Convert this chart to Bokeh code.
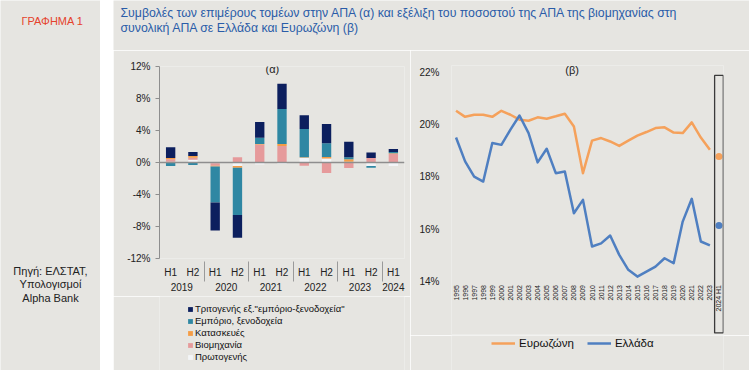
import math
import numpy as np
from bokeh.plotting import figure
from bokeh.core.properties import value
from bokeh.models import (FactorRange, Range1d, FixedTicker, PrintfTickFormatter,
                          Legend, LegendItem, Label, BoxAnnotation, Span, Spacer)
from bokeh.layouts import row, column
from bokeh.embed import file_html
from bokeh.resources import INLINE

BG = "#e6e5e1"
FONT = "Liberation Sans"

# ---------------- data (a): contributions to GVA growth (pp) ----------------
years_a = ["2019", "2019", "2020", "2020", "2021", "2021", "2022", "2022", "2023", "2023", "2024"]
halves = ["H1", "H2", "H1", "H2", "H1", "H2", "H1", "H2", "H1", "H2", "H1"]
primary = [0.10, 0.35, -0.10, -0.45, -0.25, -0.20, 0.60, 0.50, 0.10, -0.45, -0.45]
industry = [0.30, 0.25, -0.30, 0.65, 2.25, 2.05, -0.40, -1.30, -0.70, 0.55, 1.10]
construction = [0.15, 0.20, -0.10, -0.20, 0.05, 0.25, 0.05, 0.20, 0.30, 0.00, 0.05]
trade = [-0.45, -0.30, -4.50, -5.90, 0.80, 4.40, 3.55, 1.70, 0.25, -0.20, 0.15]
services = [1.35, 0.50, -3.50, -2.85, 1.95, 3.15, 1.70, 2.40, 1.95, 0.70, 0.40]
y_ticks_a = [-12, -8, -4, 0, 4, 8, 12]

# ---------------- data (b): industry share of total GVA (%) ----------------
years_b = ["1995", "1996", "1997", "1998", "1999", "2000", "2001", "2002", "2003", "2004",
           "2005", "2006", "2007", "2008", "2009", "2010", "2011", "2012", "2013", "2014",
           "2015", "2016", "2017", "2018", "2019", "2020", "2021", "2022", "2023", "2024 H1"]
eurozone = [20.52, 20.29, 20.37, 20.37, 20.29, 20.52, 20.37, 20.18, 20.14, 20.27,
            20.22, 20.31, 20.41, 19.92, 18.14, 19.38, 19.48, 19.35, 19.18, 19.38,
            19.57, 19.71, 19.86, 19.89, 19.69, 19.67, 20.08, 19.50, 19.03]
greece = [19.50, 18.59, 18.01, 17.82, 19.29, 19.22, 19.80, 20.34, 19.67, 18.55,
          19.07, 18.14, 18.20, 16.61, 17.12, 15.34, 15.46, 15.76, 15.02, 14.45,
          14.19, 14.38, 14.57, 14.89, 14.70, 16.29, 17.16, 15.53, 15.38]
eurozone_last = [18.78]
greece_last = [16.14]
y_ticks_b = [14, 16, 18, 20, 22]

# ---------------- styling ----------------
series = [
    ("Πρωτογενής", primary, "#f3f5f8"),
    ("Βιομηχανία", industry, "#e69a9b"),
    ("Κατασκευές", construction, "#f59c45"),
    ("Εμπόριο, ξενοδοχεία", trade, "#2f87a3"),
    ('Τριτογενής εξ."εμπόριο-ξενοδοχεία"', services, "#0c1f5e"),
]
EZ_COLOR = "#f5a15b"
GR_COLOR = "#4f7fc1"
TXT = "#222222"


def style_fig(p):
    p.background_fill_color = BG
    p.border_fill_color = BG
    p.outline_line_color = None
    p.xgrid.visible = False
    p.ygrid.visible = False


def blank_fig(w, h):
    f = figure(width=w, height=h, x_range=Range1d(0, w), y_range=Range1d(h, 0),
               toolbar_location=None, output_backend="svg", min_border=0)
    style_fig(f)
    f.axis.visible = False
    return f


# ---------------- left side panel ----------------
side = blank_fig(100, 370)
side.add_layout(Label(x=52, y=20, text="ΓΡΑΦΗΜΑ 1", text_font=FONT, text_font_size="11px",
                      text_color="#e5432c", text_align="center", text_baseline="middle"))
for i, t in enumerate(["Πηγή: ΕΛΣΤΑΤ,", "Υπολογισμοί", "Alpha Bank"]):
    side.add_layout(Label(x=50, y=270 + 13.5 * i, text=t, text_font=FONT, text_font_size="11px",
                          text_color=TXT, text_align="center", text_baseline="middle"))

# ---------------- title ----------------
tfig = blank_fig(636, 50)
title_lines = ["Συμβολές των επιμέρους τομέων στην ΑΠΑ (α) και εξέλιξη του ποσοστού της ΑΠΑ της βιομηχανίας στη",
               "συνολική ΑΠΑ σε Ελλάδα και Ευρωζώνη  (β)"]
for i, t in enumerate(title_lines):
    tfig.add_layout(Label(x=7, y=12 + 15 * i, text=t, text_font=FONT, text_font_size="12.3px",
                          text_color="#2a5ca8", text_align="left", text_baseline="middle"))

# ---------------- chart (a) ----------------
factors = list(zip(years_a, halves))
pa = figure(width=297, height=246,
            x_range=FactorRange(*factors, factor_padding=0, group_padding=0, range_padding=0),
            y_range=Range1d(-12, 12), toolbar_location=None, output_backend="svg",
            min_border_left=46, min_border_right=6, min_border_top=16, min_border_bottom=38)
style_fig(pa)

n = len(factors)
pos = np.zeros(n)
neg = np.zeros(n)
for name, vals, color in series:
    v = np.array(vals, dtype=float)
    bottom = np.where(v >= 0, pos, neg)
    top = bottom + v
    pos = np.where(v >= 0, top, pos)
    neg = np.where(v < 0, top, neg)
    pa.vbar(x=factors, bottom=bottom, top=top, width=0.42, fill_color=color, line_color=None)

pa.add_layout(Span(location=0, dimension="width", line_color="#8e8e8e", line_width=1.5))

pa.yaxis.ticker = FixedTicker(ticks=y_ticks_a)
pa.yaxis.formatter = PrintfTickFormatter(format="%d%%")
pa.yaxis.axis_line_color = "#8e8e8e"
pa.yaxis.major_tick_line_color = "#8e8e8e"
pa.yaxis.major_tick_out = 4
pa.yaxis.major_tick_in = 0
pa.yaxis.minor_tick_line_color = None
pa.yaxis.major_label_text_font = FONT
pa.yaxis.major_label_text_font_size = "10px"
pa.yaxis.major_label_text_color = TXT

pa.xaxis.axis_line_color = None
pa.xaxis.major_tick_line_color = None
pa.xaxis.major_label_text_font = FONT
pa.xaxis.major_label_text_font_size = "10px"
pa.xaxis.major_label_text_color = TXT
pa.xaxis.group_text_font = FONT
pa.xaxis.group_text_font_size = "10px"
pa.xaxis.group_text_color = TXT
pa.xaxis.group_text_font_style = "normal"
pa.xaxis.major_label_standoff = 2
pa.xaxis.separator_line_color = "#9a9a9a"
pa.xaxis.separator_line_width = 1

pa.add_layout(Label(x=5.07, y=11.75, text="(α)", text_font=FONT, text_font_size="11px",
                    text_color=TXT, text_align="center", text_baseline="middle"))

# legend for (a) in its own strip
la = figure(width=297, height=74, x_range=Range1d(0, 1), y_range=Range1d(0, 1),
            toolbar_location=None, output_backend="svg", min_border=0)
style_fig(la)
la.axis.visible = False
items_a = []
for name, _, color in reversed(series):
    r = la.vbar(x=[-5], bottom=[-6], top=[-5], width=0.1, fill_color=color, line_color=None)
    items_a.append(LegendItem(label=name, renderers=[r]))
legend_a = Legend(items=items_a, location=(28, 8), orientation="vertical",
                  background_fill_alpha=0, border_line_color=None,
                  label_text_font=FONT, label_text_font_size="9.5px", label_text_color="#111111",
                  glyph_width=6, glyph_height=6, label_height=11, label_standoff=2,
                  spacing=1, padding=0, margin=0)
la.add_layout(legend_a)

# ---------------- chart (b) ----------------
pb = figure(width=339, height=285,
            x_range=FactorRange(*years_b, factor_padding=0, range_padding=0),
            y_range=Range1d(11.98, 22.25), toolbar_location=None, output_backend="svg",
            min_border_left=41, min_border_right=26, min_border_top=15, min_border_bottom=1)
style_fig(pb)

hist = years_b[:len(eurozone)]
last = years_b[len(eurozone):]
r_ez = pb.line(x=hist, y=eurozone, line_color=EZ_COLOR, line_width=2.5, line_join="round")
r_gr = pb.line(x=hist, y=greece, line_color=GR_COLOR, line_width=2.5, line_join="round")
pb.scatter(x=last, y=eurozone_last, size=7, fill_color=EZ_COLOR, line_color=None)
pb.scatter(x=last, y=greece_last, size=7, fill_color=GR_COLOR, line_color=None)

idx_last = years_b.index(last[0])
pb.add_layout(BoxAnnotation(left=idx_last + 0.02, right=idx_last + 0.98, top=21.87, bottom=12.04,
                            fill_color=None, fill_alpha=0, line_color="#3a3a3a",
                            line_alpha=1, line_width=1.3))

# category labels just under the 14% level, rotated like the axis labels
pb.text(x=years_b, y=[13.87] * len(years_b), text=years_b, angle=math.pi / 2,
        text_align="right", text_baseline="middle", text_font_size="7px",
        text_color=TXT, text_font=value(FONT))

pb.yaxis.ticker = FixedTicker(ticks=y_ticks_b)
pb.yaxis.formatter = PrintfTickFormatter(format="%d%%")
pb.yaxis.axis_line_color = None
pb.yaxis.major_tick_line_color = None
pb.yaxis.minor_tick_line_color = None
pb.yaxis.major_label_text_font = FONT
pb.yaxis.major_label_text_font_size = "10px"
pb.yaxis.major_label_text_color = TXT
pb.yaxis.major_label_standoff = 6
pb.xaxis.visible = False

pb.add_layout(Label(x=13.3, y=22.08, text="(β)", text_font=FONT, text_font_size="11px",
                    text_color=TXT, text_align="center", text_baseline="middle"))

lb = figure(width=339, height=35, x_range=Range1d(0, 1), y_range=Range1d(0, 1),
            toolbar_location=None, output_backend="svg", min_border=0)
style_fig(lb)
lb.axis.visible = False
l_ez = lb.line(x=[-5, -4], y=[-5, -5], line_color=EZ_COLOR, line_width=2.5)
l_gr = lb.line(x=[-5, -4], y=[-5, -5], line_color=GR_COLOR, line_width=2.5)
legend_b = Legend(items=[LegendItem(label="Ευρωζώνη", renderers=[l_ez]),
                         LegendItem(label="Ελλάδα", renderers=[l_gr])],
                  location=(40, 21), orientation="horizontal",
                  background_fill_alpha=0, border_line_color=None,
                  label_text_font=FONT, label_text_font_size="11.5px", label_text_color="#111111",
                  glyph_width=24, glyph_height=12, label_height=12, label_standoff=4,
                  spacing=13, padding=0, margin=0)
lb.add_layout(legend_b)

layout = row(side, Spacer(width=13, height=370),
             column(tfig, row(column(pa, la, spacing=0), column(pb, lb, spacing=0), spacing=0),
                    spacing=0), spacing=0)

open("out.html", "w").write(file_html(layout, INLINE))
